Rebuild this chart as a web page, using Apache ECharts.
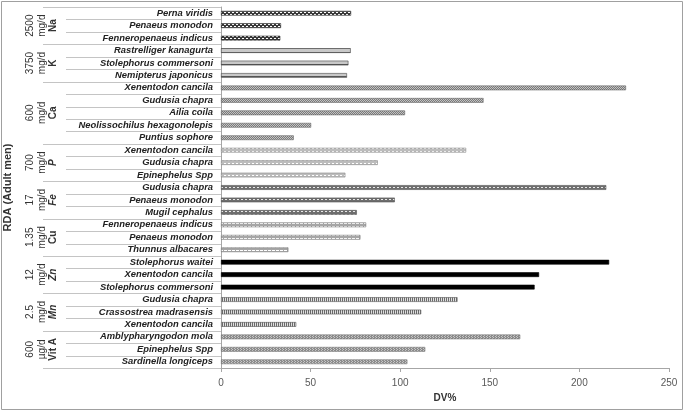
<!DOCTYPE html>
<html><head><meta charset="utf-8">
<script src="https://cdn.jsdelivr.net/npm/echarts@6/dist/echarts.min.js"></script>
<style>html,body{margin:0;padding:0;background:#fff}#c{width:685px;height:413px}</style>
</head><body><div id="c"></div>
<script>
// ---- data ----
const species = [
  "Perna viridis","Penaeus monodon","Fenneropenaeus indicus",
  "Rastrelliger kanagurta","Stolephorus commersoni","Nemipterus japonicus",
  "Xenentodon cancila","Gudusia chapra","Ailia coila","Neolissochilus hexagonolepis","Puntius sophore",
  "Xenentodon cancila","Gudusia chapra","Epinephelus Spp",
  "Gudusia chapra","Penaeus monodon","Mugil cephalus",
  "Fenneropenaeus indicus","Penaeus monodon","Thunnus albacares",
  "Stolephorus waitei","Xenentodon cancila","Stolephorus commersoni",
  "Gudusia chapra","Crassostrea madrasensis","Xenentodon cancila",
  "Amblypharyngodon mola","Epinephelus Spp","Sardinella longiceps"
];
const dvPercent = [
  72.6, 33.5, 33.1,
  72.4, 71.1, 70.3,
  226, 146.5, 102.7, 50.3, 40.6,
  136.8, 87.5, 69.4,
  215, 97, 75.8,
  81, 77.8, 37.6,
  216.6, 177.5, 175,
  132, 111.7, 42,
  167, 114, 104
];
const groupAmounts = ["2500","3750","600","700","17","1.35","12","2.5","600"];
const groupUnits   = ["mg/d","mg/d","mg/d","mg/d","mg/d","mg/d","mg/d","mg/d","µg/d"];
const groupNutrients = ["Na","K","Ca","P","Fe","Cu","Zn","Mn","Vit A"];
const groupSizes = [3,3,5,3,3,3,3,3,3];
const xTicks = [0,50,100,150,200,250];

// ---- patterns ----
function pat(w,h,bg,fg,pts){
  const c=document.createElement('canvas');c.width=w;c.height=h;
  const g=c.getContext('2d');g.fillStyle=bg;g.fillRect(0,0,w,h);
  g.fillStyle=fg;pts.forEach(p=>g.fillRect(p[0],p[1],p[2]||1,p[3]||1));
  return {image:c,repeat:'repeat'};
}
const groupStyles = [
  {color:pat(4,4,'#3a3a3a','#ffffff',[[0,0,2,1],[2,2,2,1]]),border:'#333'},   // Na
  {color:pat(2,4,'#c8c8c8','#555555',[[0,0,2,1]]),border:'#444'},              // K
  {color:pat(2,2,'#7a7a7a','#c4c4c4',[[0,0],[1,1]]),border:'#666'},             // Ca
  {color:pat(4,3,'#bdbdbd','#ffffff',[[0,1,2,1]]),border:'#888'},               // P
  {color:pat(4,3,'#6e6e6e','#e8e8e8',[[1,1,2,1]]),border:'#555'},               // Fe
  {color:pat(4,3,'#a6a6a6','#ffffff',[[0,1,3,1]]),border:'#777'},               // Cu
  {color:'#000000',border:'#000'},                                               // Zn
  {color:pat(2,2,'#6a6a6a','#e0e0e0',[[1,0,1,2]]),border:'#555'},               // Mn
  {color:pat(3,2,'#8c8c8c','#c8c8c8',[[0,0],[1,1]]),border:'#777'}              // Vit A
];
const barData = [];
let k=0;
groupSizes.forEach((n,gi)=>{for(let i=0;i<n;i++){barData.push({value:dvPercent[k++],itemStyle:{color:groupStyles[gi].color,borderColor:groupStyles[gi].border,borderWidth:0.6}});}});

const chart = echarts.init(document.getElementById('c'),null,{renderer:'canvas'});
chart.setOption({
  animation:false,
  grid:{left:221,right:16,top:7,bottom:45,containLabel:false,outerBoundsMode:'none'},
  xAxis:{type:'value',min:0,max:250,interval:50,
    name:'DV%',nameLocation:'middle',nameGap:25,
    nameTextStyle:{fontFamily:'Liberation Sans',fontWeight:'bold',fontSize:10,color:'#333'},
    axisLine:{show:true,lineStyle:{color:'#a6a6a6'}},
    axisTick:{show:true,length:4,lineStyle:{color:'#a6a6a6'}},
    axisLabel:{fontFamily:'Liberation Sans',fontSize:10,color:'#595959',margin:10,
      formatter:v=>xTicks.includes(v)?String(v):''},
    splitLine:{show:false}},
  yAxis:{type:'category',inverse:true,data:species,
    name:'RDA (Adult men)',nameLocation:'middle',nameGap:208,nameRotate:90,
    nameTextStyle:{fontFamily:'Liberation Sans',fontWeight:'bold',fontSize:11,color:'#333'},
    axisLine:{show:true,lineStyle:{color:'#a6a6a6'}},
    axisTick:{show:false},
    axisLabel:{interval:0,hideOverlap:false,fontFamily:'Liberation Sans',fontStyle:'italic',fontWeight:'bold',fontSize:9.4,color:'#222',margin:8},
    splitLine:{show:false}},
  series:[{type:'bar',data:barData,barWidth:'38%',silent:true}]
});

// ---- decorations: category separators & group labels ----
const cy = i=>chart.convertToPixel({yAxisIndex:0},i);
const band = cy(1)-cy(0);
const gfx = [];
const lineStyle={stroke:'#c4c4c4',lineWidth:1};
let idx=0;
gfx.push({type:'line',shape:{x1:43,y1:Math.round(cy(0)-band/2)+0.5,x2:221,y2:Math.round(cy(0)-band/2)+0.5},style:lineStyle});
groupSizes.forEach((n,gi)=>{
  const top=cy(idx)-band/2, bot=cy(idx+n-1)+band/2;
  for(let i=0;i<n;i++){
    const yb=Math.round(cy(idx+i)+band/2)+0.5;
    const last=(i===n-1);
    gfx.push({type:'line',shape:{x1:last?43:66,y1:yb,x2:221,y2:yb},style:lineStyle});
  }
  gfx.push({type:'text',x:42,y:(top+bot)/2,rotation:Math.PI/2,
    style:{text:groupAmounts[gi]+'\n'+groupUnits[gi]+'\n{b|'+groupNutrients[gi]+'}',
      align:'center',verticalAlign:'middle',fontFamily:'Liberation Sans',fontSize:10,lineHeight:11.5,fill:'#333',
      rich:{b:{fontFamily:'Liberation Sans',fontSize:10,fontWeight:'bold',fontStyle:(['Na','K','Ca','Cu','Vit A'].includes(groupNutrients[gi])?'normal':'italic'),lineHeight:11.5,fill:'#333'}}}});
  idx+=n;
});
gfx.push({type:'rect',shape:{x:1.5,y:1.5,width:681,height:408},style:{fill:null,stroke:'#a0a0a0',lineWidth:1},silent:true});
chart.setOption({graphic:gfx});
</script></body></html>
